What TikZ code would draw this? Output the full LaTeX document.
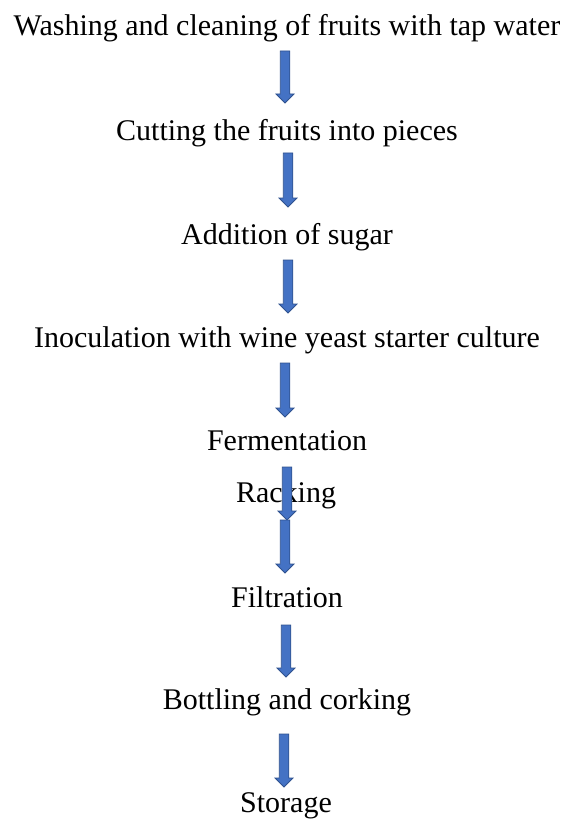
\documentclass[tikz,border=0pt]{standalone}
\usepackage{fontspec}
\setmainfont{Liberation Serif}
\usetikzlibrary{calc}
\definecolor{arrowfill}{HTML}{4472C4}
\definecolor{arrowedge}{HTML}{2F528F}

\tikzset{
  stagetext/.style={anchor=base, inner sep=0pt, font=\fontsize{30}{36}\selectfont},
  blockarrow/.style={draw=arrowedge, fill=arrowfill, line width=0.8pt, line join=miter,
    to path={($(\tikztostart)+(-4.75pt,0)$) -- ($(\tikztostart)+(4.75pt,0)$)
      -- ($(\tikztotarget)+(4.75pt,9pt)$) -- ($(\tikztotarget)+(9pt,9pt)$)
      -- (\tikztotarget) -- ($(\tikztotarget)+(-9pt,9pt)$)
      -- ($(\tikztotarget)+(-4.75pt,9pt)$) -- cycle}}
}

\begin{document}
\begin{tikzpicture}[x=1pt, y=-1pt]
\useasboundingbox (0,0) rectangle (566,821);

%%%%%%%%%%  process steps  %%%%%%%%%%
{
\node[stagetext] (wash) at (287,36) {Washing and cleaning of fruits with tap water};
\node[stagetext] (cut) at (287,141) {Cutting the fruits into pieces};
\node[stagetext] (sugar) at (287,244) {Addition of sugar};
\node[stagetext] (inoc) at (287,347) {Inoculation with wine yeast starter culture};
\node[stagetext] (ferm) at (287,450) {Fermentation};
\node[stagetext] (rack) at (286,502) {Racking};
\node[stagetext] (filt) at (287,607) {Filtration};
\node[stagetext] (bottle) at (287,709) {Bottling and corking};
\node[stagetext] (store) at (286,812) {Storage};
}

%%%%%%%%%%  arrow ends  %%%%%%%%%%
{
\coordinate (a1top) at (285,51);  \coordinate (a1tip) at (285,103);
\coordinate (a2top) at (288,153); \coordinate (a2tip) at (288,207);
\coordinate (a3top) at (288,260); \coordinate (a3tip) at (288,313);
\coordinate (a4top) at (285,363); \coordinate (a4tip) at (285,417);
\coordinate (a5top) at (287,467); \coordinate (a5tip) at (287,520);
\coordinate (a6top) at (285,520); \coordinate (a6tip) at (285,573);
\coordinate (a7top) at (286,625); \coordinate (a7tip) at (286,677);
\coordinate (a8top) at (284,734); \coordinate (a8tip) at (284,787);
}

% block arrows
{
\path[blockarrow] (a1top) to (a1tip);
\path[blockarrow] (a2top) to (a2tip);
\path[blockarrow] (a3top) to (a3tip);
\path[blockarrow] (a4top) to (a4tip);
\path[blockarrow] (a5top) to (a5tip);
\path[blockarrow] (a6top) to (a6tip);
\path[blockarrow] (a7top) to (a7tip);
\path[blockarrow] (a8top) to (a8tip);
}

\end{tikzpicture}
\end{document}
